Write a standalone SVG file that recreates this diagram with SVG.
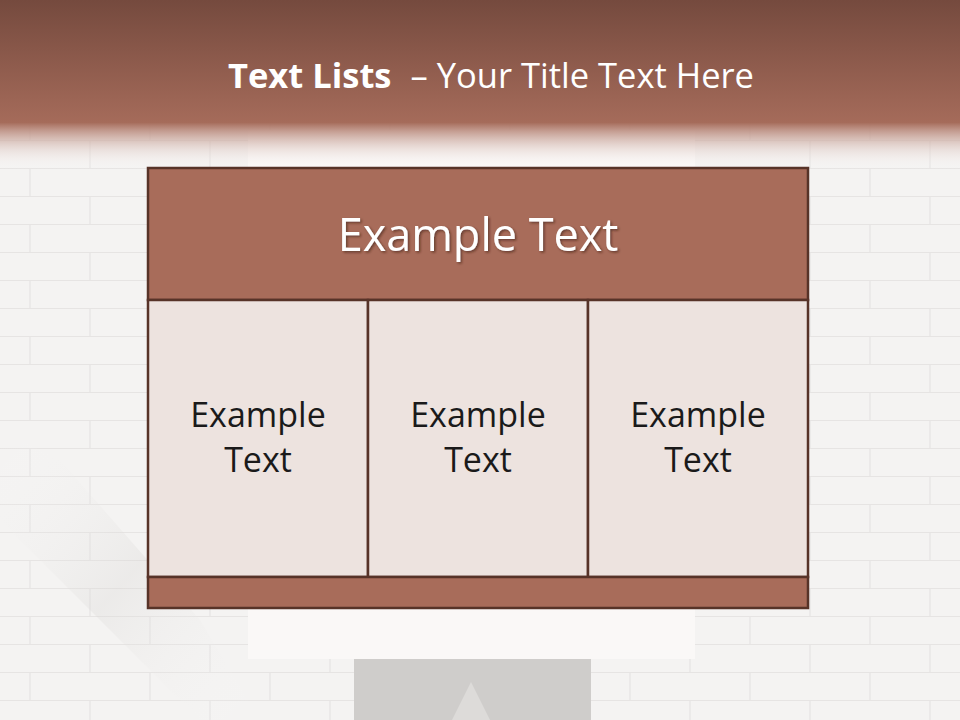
<svg xmlns="http://www.w3.org/2000/svg" width="960" height="720" viewBox="0 0 960 720">
<defs>
<linearGradient id="hdr" x1="0" y1="0" x2="0" y2="1">
<stop offset="0" stop-color="#754a3e"/>
<stop offset="0.72" stop-color="#a56b5a"/>
<stop offset="0.76" stop-color="#b8887a" stop-opacity="0.9"/>
<stop offset="0.88" stop-color="#e0ccc6" stop-opacity="0.5"/>
<stop offset="1" stop-color="#ffffff" stop-opacity="0"/>
</linearGradient>
<pattern id="brick" width="120" height="56" patternUnits="userSpaceOnUse">
<path d="M0 0.5H120M0 28.5H120M30 0V28M90 28V56" fill="none" stroke="#dcdad8" stroke-width="1.2" opacity="0.6"/>
</pattern>
<linearGradient id="shade" x1="0" y1="0" x2="1" y2="1">
<stop offset="0" stop-color="#ffffff" stop-opacity="0"/>
<stop offset="0.5" stop-color="#d8d6d4" stop-opacity="0.3"/>
<stop offset="1" stop-color="#ffffff" stop-opacity="0"/>
</linearGradient>
<filter id="ts" x="-10%" y="-20%" width="120%" height="150%">
<feDropShadow dx="1.5" dy="1.5" stdDeviation="1" flood-color="#3a2018" flood-opacity="0.6"/>
</filter>
<style>
.cell{fill:#ede3df;stroke:#573328;stroke-width:2.5}
.band{fill:#a86c5a;stroke:#573328;stroke-width:2.5}
.txt{font-family:"Open Sans","Noto Sans","Liberation Sans",sans-serif;font-size:34px;fill:#1a1a1a;text-anchor:middle}
</style>
</defs>
<g id="background">
<rect width="960" height="720" fill="#f4f3f2"/>
<rect width="960" height="720" fill="url(#brick)"/>
<path d="M0 430 L60 460 L200 620 L260 720 L200 720 L0 520 Z" fill="url(#shade)"/>
<rect x="248" y="130" width="447" height="529" fill="#faf8f7"/>
<rect x="354" y="659" width="237" height="61" fill="#cfcdcb"/>
<path d="M452 720 L471 682 L490 720 Z" fill="#dddbd9"/>
<rect width="960" height="170" fill="url(#hdr)"/>
</g>
<g id="title">
<text x="491" y="88" text-anchor="middle" font-family="'Open Sans','Noto Sans','Liberation Sans',sans-serif" font-size="34.5" fill="#ffffff"><tspan font-weight="bold">Text Lists</tspan><tspan dx="10"> – Your Title Text Here</tspan></text>
</g>
<g id="header-cell">
<rect class="band" x="148" y="168" width="660" height="132"/>
<text x="478" y="251" text-anchor="middle" font-family="'Open Sans','Noto Sans','Liberation Sans',sans-serif" font-size="45" fill="#ffffff" filter="url(#ts)">Example Text</text>
</g>
<g id="cell1">
<rect class="cell" x="148" y="300" width="220" height="277"/>
<text class="txt" x="258" y="427">Example</text>
<text class="txt" x="258" y="472">Text</text>
</g>
<g id="cell2">
<rect class="cell" x="368" y="300" width="220" height="277"/>
<text class="txt" x="478" y="427">Example</text>
<text class="txt" x="478" y="472">Text</text>
</g>
<g id="cell3">
<rect class="cell" x="588" y="300" width="220" height="277"/>
<text class="txt" x="698" y="427">Example</text>
<text class="txt" x="698" y="472">Text</text>
</g>
<g id="footer-band">
<rect class="band" x="148" y="577" width="660" height="31"/>
</g>
<g id="connectors"/>
</svg>
